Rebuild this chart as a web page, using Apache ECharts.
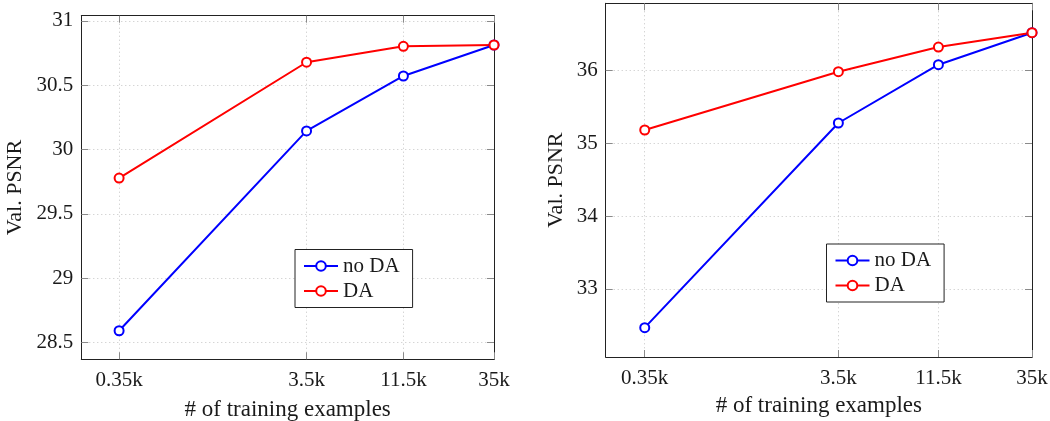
<!DOCTYPE html>
<html>
<head>
<meta charset="utf-8">
<script src="https://cdn.jsdelivr.net/npm/echarts@6/dist/echarts.min.js"></script>
<style>html,body{margin:0;padding:0;background:#fff}#c{width:1050px;height:421px}</style>
</head>
<body>
<div id="c"></div>
<script>
const xValues = [350, 3500, 11500, 35000];
const xTickLabels = {350: '0.35k', 3500: '3.5k', 11500: '11.5k', 35000: '35k'};
const leftNoDA = [28.59, 30.145, 30.572, 30.813];
const leftDA = [29.778, 30.679, 30.803, 30.813];
const rightNoDA = [32.47, 35.274, 36.073, 36.511];
const rightDA = [35.178, 35.977, 36.315, 36.511];
const leftYTicks = [28.5, 29, 29.5, 30, 30.5, 31];
const rightYTicks = [33, 34, 35, 36];

const FONT = '"Liberation Serif", "DejaVu Serif", serif';
const BLUE = '#0000ff', RED = '#ff0000';
const TXT = '#1a1a1a';
const X_MIN = 220, X_MAX = 35000;

function pairs(xs, ys) { return xs.map((x, i) => [x, ys[i]]); }

function xAxis(gridIndex, nameGap) {
  return {
    type: 'log', gridIndex, min: X_MIN, max: X_MAX, logBase: 10, position: 'bottom',
    name: '# of training examples', nameLocation: 'middle', nameGap,
    nameTextStyle: {fontFamily: FONT, fontSize: 23, color: TXT},
    axisLine: {show: true, lineStyle: {color: '#222', width: 1}},
    axisTick: {show: true, inside: true, length: 7, customValues: xValues, lineStyle: {color: '#8a8a8a'}},
    axisLabel: {customValues: xValues, formatter: v => xTickLabels[Math.round(v)] || '', fontFamily: FONT, fontSize: 21, color: TXT, margin: 11},
    splitLine: {show: true, lineStyle: {type: [1, 3], color: '#c4c4c4', width: 1}},
    minorTick: {show: false}, minorSplitLine: {show: false}
  };
}
function xAxisTop(gridIndex) {
  return {
    type: 'log', gridIndex, min: X_MIN, max: X_MAX, logBase: 10, position: 'top',
    axisLine: {show: true, lineStyle: {color: '#222', width: 1}},
    axisTick: {show: true, inside: true, length: 7, customValues: xValues, lineStyle: {color: '#8a8a8a'}},
    axisLabel: {show: false}, splitLine: {show: false}
  };
}
function yAxis(gridIndex, min, max, ticks, nameGap) {
  return {
    type: 'value', gridIndex, min, max, position: 'left',
    name: 'Val. PSNR', nameLocation: 'middle', nameGap, nameRotate: 90,
    nameTextStyle: {fontFamily: FONT, fontSize: 22, color: TXT},
    axisLine: {show: true, lineStyle: {color: '#222', width: 1}},
    axisTick: {show: true, inside: true, length: 7, customValues: ticks, lineStyle: {color: '#8a8a8a'}},
    axisLabel: {customValues: ticks, fontFamily: FONT, fontSize: 21, color: TXT, margin: 8},
    splitLine: {show: true, lineStyle: {type: [1, 3], color: '#c4c4c4', width: 1}}
  };
}
function yAxisRight(gridIndex, min, max, ticks) {
  return {
    type: 'value', gridIndex, min, max, position: 'right',
    axisLine: {show: true, lineStyle: {color: '#222', width: 1}},
    axisTick: {show: true, inside: true, length: 7, customValues: ticks, lineStyle: {color: '#8a8a8a'}},
    axisLabel: {show: false}, splitLine: {show: false}
  };
}
function series(name, data, color, xi, yi) {
  return {
    name, type: 'line', xAxisIndex: xi, yAxisIndex: yi, data,
    symbol: 'emptyCircle', symbolSize: 9,
    lineStyle: {color, width: 2},
    itemStyle: {color, borderColor: color, borderWidth: 2},
    emphasis: {disabled: true}, animation: false
  };
}
function legend(left, top) {
  return {
    left, top, orient: 'vertical',
    data: ['no DA', 'DA'],
    backgroundColor: '#fff', borderColor: '#222', borderWidth: 1,
    padding: [6, 13, 6, 8], itemGap: 4, itemWidth: 34, itemHeight: 12,
    textStyle: {fontFamily: FONT, fontSize: 21, color: TXT},
    selectedMode: false
  };
}

const chart = echarts.init(document.getElementById('c'), null, {renderer: 'canvas'});
chart.setOption({
  backgroundColor: '#fff',
  animation: false,
  grid: [
    {left: 81.3, right: 556, top: 15.7, bottom: 61.7, show: false, containLabel: false, outerBoundsMode: 'none'},
    {left: 605.7, right: 18, top: 3.3, bottom: 64, show: false, containLabel: false, outerBoundsMode: 'none'}
  ],
  xAxis: [xAxis(0, 39), xAxis(1, 37), xAxisTop(0), xAxisTop(1)],
  yAxis: [
    yAxis(0, 28.368, 31.041, leftYTicks, 55),
    yAxis(1, 32.068, 36.914, rightYTicks, 38),
    yAxisRight(0, 28.368, 31.041, leftYTicks),
    yAxisRight(1, 32.068, 36.914, rightYTicks)
  ],
  legend: [legend(295, 249.5), legend(826.5, 244)],
  series: [
    series('no DA', pairs(xValues, leftNoDA), BLUE, 0, 0),
    series('DA', pairs(xValues, leftDA), RED, 0, 0),
    series('no DA', pairs(xValues, rightNoDA), BLUE, 1, 1),
    series('DA', pairs(xValues, rightDA), RED, 1, 1)
  ]
});
</script>
</body>
</html>
